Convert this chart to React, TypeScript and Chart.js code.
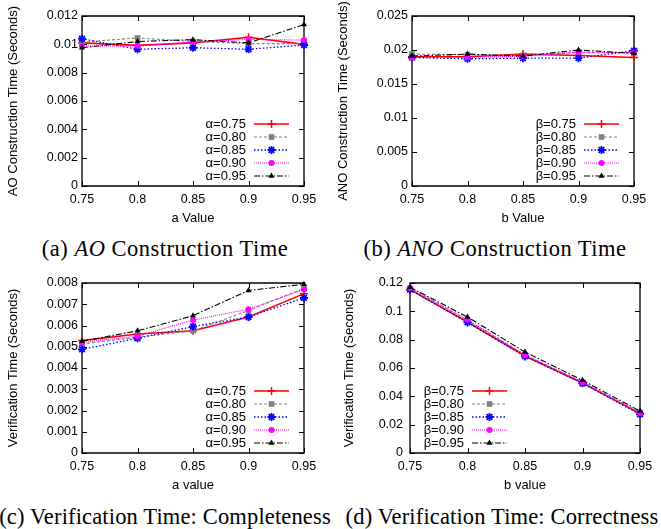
import React, { useEffect, useRef } from 'react';
import { Chart, registerables } from 'chart.js';
import { drawPoint } from 'chart.js/helpers';

Chart.register(...registerables);

// ---------- data ----------
const xLabels = ['0.75', '0.8', '0.85', '0.9', '0.95'];
const alphaLabels = ['α=0.75', 'α=0.80', 'α=0.85', 'α=0.90', 'α=0.95'];
const betaLabels = ['β=0.75', 'β=0.80', 'β=0.85', 'β=0.90', 'β=0.95'];

// (a) AO construction time
const ao075 = [0.0101, 0.00993, 0.0101, 0.0105, 0.01];
const ao080 = [0.01016, 0.01045, 0.0102, 0.01005, 0.01005];
const ao085 = [0.0104, 0.00965, 0.00976, 0.00965, 0.00995];
const ao090 = [0.00988, 0.00988, 0.01016, 0.01035, 0.0103];
const ao095 = [0.00976, 0.0102, 0.01033, 0.0101, 0.0114];

// (b) ANO construction time
const ano075 = [0.019, 0.019, 0.0194, 0.0192, 0.0189];
const ano080 = [0.0194, 0.0193, 0.0192, 0.0196, 0.0196];
const ano085 = [0.0189, 0.0187, 0.0188, 0.0188, 0.0199];
const ano090 = [0.0189, 0.0189, 0.0191, 0.0197, 0.0196];
const ano095 = [0.0191, 0.0194, 0.0191, 0.02, 0.0195];

// (c) verification time: completeness
const vc075 = [0.00529, 0.0056, 0.00575, 0.0064, 0.0075];
const vc080 = [0.00513, 0.00545, 0.00575, 0.0067, 0.00775];
const vc085 = [0.00488, 0.0054, 0.00595, 0.0064, 0.0073];
const vc090 = [0.0052, 0.0055, 0.00625, 0.00677, 0.0077];
const vc095 = [0.00526, 0.00575, 0.00646, 0.00765, 0.00794];

// (d) verification time: correctness
const vr075 = [0.1153, 0.0925, 0.0685, 0.0494, 0.0278];
const vr080 = [0.1162, 0.0937, 0.0694, 0.0501, 0.0287];
const vr085 = [0.1153, 0.0922, 0.0682, 0.0492, 0.0273];
const vr090 = [0.1165, 0.0941, 0.069, 0.0499, 0.0282];
const vr095 = [0.117, 0.096, 0.0713, 0.0513, 0.0296];

// ---------- styles ----------
const FONT = 'Liberation Sans';
const seriesStyles = [
  { color: '#ff0000', dash: [] as number[], width: 1.6, point: 'cross', radius: 4, pbw: 1.5 },
  { color: '#808080', dash: [3, 2], width: 1.1, point: 'rect', radius: 4, pbw: 0 },
  { color: '#0000ff', dash: [1.5, 2], width: 1.3, point: 'star', radius: 4, pbw: 1.8 },
  { color: '#ff00ff', dash: [1, 1], width: 1.1, point: 'circle', radius: 3, pbw: 0 },
  { color: '#000000', dash: [6, 2, 1.5, 2], width: 1.1, point: 'triangle', radius: 3.5, pbw: 0 },
];

const fmt = (v: number) => String(parseFloat(Number(v).toFixed(4)));

const framePlugin = {
  id: 'gFrame',
  beforeDatasetsDraw(chart: any) {
    const { ctx, chartArea } = chart;
    const { left, right, top, bottom } = chartArea;
    const xs = chart.scales.x;
    const ys = chart.scales.y;
    const tl = 5;
    ctx.save();
    ctx.strokeStyle = '#000';
    ctx.lineWidth = 1.3;
    ctx.setLineDash([]);
    ctx.beginPath();
    ctx.rect(left, top, right - left, bottom - top);
    ctx.stroke();
    ctx.lineWidth = 1;
    ctx.beginPath();
    xs.ticks.forEach((_: any, i: number) => {
      const px = Math.round(xs.getPixelForTick(i)) + 0.5;
      ctx.moveTo(px, bottom);
      ctx.lineTo(px, bottom - tl);
      ctx.moveTo(px, top);
      ctx.lineTo(px, top + tl);
    });
    ys.ticks.forEach((_: any, i: number) => {
      const py = Math.round(ys.getPixelForTick(i)) + 0.5;
      ctx.moveTo(left, py);
      ctx.lineTo(left + tl, py);
      ctx.moveTo(right, py);
      ctx.lineTo(right - tl, py);
    });
    ctx.stroke();
    ctx.restore();
  },
};

const legendPlugin = {
  id: 'gLegend',
  afterDraw(chart: any, _args: any, opts: any) {
    const { ctx, chartArea } = chart;
    const rowH = 13;
    const lineLen = 35;
    let lineStart: number;
    if (opts.side === 'left') {
      lineStart = chartArea.left + 62;
    } else {
      lineStart = chartArea.right - 15 - lineLen;
    }
    const textRight = lineStart - 8;
    const lastY = chartArea.bottom - 10;
    const n = chart.data.datasets.length;
    ctx.save();
    chart.data.datasets.forEach((ds: any, i: number) => {
      const y = lastY - (n - 1 - i) * rowH;
      ctx.fillStyle = '#000';
      ctx.font = `13px "${FONT}"`;
      ctx.textAlign = 'right';
      ctx.textBaseline = 'middle';
      ctx.fillText(ds.label, textRight, y + 0.5);
      ctx.strokeStyle = ds.borderColor;
      ctx.lineWidth = ds.borderWidth;
      ctx.setLineDash(ds.borderDash || []);
      ctx.beginPath();
      ctx.moveTo(lineStart, y);
      ctx.lineTo(lineStart + lineLen, y);
      ctx.stroke();
      ctx.setLineDash([]);
      ctx.fillStyle = ds.pointBackgroundColor;
      ctx.strokeStyle = ds.pointBorderColor;
      ctx.lineWidth = ds.pointBorderWidth;
      drawPoint(
        ctx,
        { pointStyle: ds.pointStyle, rotation: 0, radius: ds.pointRadius, borderWidth: ds.pointBorderWidth },
        lineStart + lineLen / 2,
        y
      );
    });
    ctx.restore();
  },
};

type PanelProps = {
  left: number;
  top: number;
  yWidth: number;
  padRight: number;
  yMax: number;
  yStep: number;
  yTitle: string;
  xTitle: string;
  yTitlePad: number;
  yTickPad: number;
  legendSide: 'left' | 'right';
  names: string[];
  series: number[][];
};

const W = 330;
const H = 232;

function Panel(p: PanelProps) {
  const ref = useRef<HTMLCanvasElement | null>(null);
  useEffect(() => {
    if (!ref.current) return;
    const font = { family: FONT, size: 12.5 };
    const titleFont = { family: FONT, size: 13 };
    const chart = new Chart(ref.current, {
      type: 'line',
      data: {
        labels: xLabels,
        datasets: p.series.map((s, i) => {
          const st = seriesStyles[i];
          return {
            label: p.names[i],
            data: s,
            borderColor: st.color,
            backgroundColor: st.color,
            borderWidth: st.width,
            borderDash: st.dash,
            pointStyle: st.point,
            pointRadius: st.radius,
            pointBorderWidth: st.pbw,
            pointBackgroundColor: st.color,
            pointBorderColor: st.color,
            tension: 0,
            fill: false,
            clip: false,
            order: 4 - i,
          } as any;
        }),
      },
      options: {
        animation: false,
        responsive: false,
        devicePixelRatio: 1,
        layout: { padding: { left: 0, right: p.padRight, top: 16, bottom: 0 } },
        plugins: {
          legend: { display: false },
          tooltip: { enabled: false },
          gLegend: { side: p.legendSide },
        } as any,
        scales: {
          x: {
            type: 'category',
            offset: false,
            grid: { display: false, drawTicks: false },
            border: { display: false },
            ticks: { color: '#000', font, padding: 6, maxRotation: 0, autoSkip: false },
            title: { display: true, text: p.xTitle, color: '#000', font: titleFont, padding: { top: 0, bottom: 5.5 } },
            afterFit: (s: any) => {
              s.height = 46;
            },
          },
          y: {
            type: 'linear',
            min: 0,
            max: p.yMax,
            grid: { display: false, drawTicks: false },
            border: { display: false },
            ticks: {
              color: '#000',
              font,
              stepSize: p.yStep,
              padding: p.yTickPad,
              callback: (v: any) => fmt(v),
            },
            title: { display: true, text: p.yTitle, color: '#000', font: titleFont, padding: { top: p.yTitlePad, bottom: 0 } },
            afterFit: (s: any) => {
              s.width = p.yWidth;
            },
          },
        },
      } as any,
      plugins: [framePlugin, legendPlugin],
    });
    return () => chart.destroy();
  }, []);
  return (
    <canvas
      ref={ref}
      width={W}
      height={H}
      style={{ position: 'absolute', left: p.left, top: p.top, width: W, height: H }}
    />
  );
}

const captionStyle = (center: number, top: number, spacing: number): React.CSSProperties => ({
  position: 'absolute',
  left: center - 200,
  top,
  width: 400,
  textAlign: 'center',
  fontFamily: '"Liberation Serif", serif',
  fontSize: 22.5,
  letterSpacing: spacing,
  lineHeight: 1,
  whiteSpace: 'nowrap',
  color: '#000',
});

export default function App() {
  return (
    <div style={{ position: 'absolute', left: 0, top: 0, width: 661, height: 529, background: '#fff', overflow: 'hidden' }}>
      <Panel
        left={0}
        top={0}
        yWidth={82}
        padRight={26}
        yMax={0.012}
        yStep={0.002}
        yTitle="AO Construction Time (Seconds)"
        xTitle="a Value"
        yTitlePad={6}
        yTickPad={4}
        legendSide="right"
        names={alphaLabels}
        series={[ao075, ao080, ao085, ao090, ao095]}
      />
      <Panel
        left={330}
        top={0}
        yWidth={82}
        padRight={26}
        yMax={0.025}
        yStep={0.005}
        yTitle="ANO Construction Time (Seconds)"
        xTitle="b Value"
        yTitlePad={6}
        yTickPad={4}
        legendSide="right"
        names={betaLabels}
        series={[ano075, ano080, ano085, ano090, ano095]}
      />
      <Panel
        left={0}
        top={267}
        yWidth={82}
        padRight={26}
        yMax={0.008}
        yStep={0.001}
        yTitle="Verification Time (Seconds)"
        xTitle="a value"
        yTitlePad={6}
        yTickPad={4}
        legendSide="right"
        names={alphaLabels}
        series={[vc075, vc080, vc085, vc090, vc095]}
      />
      <Panel
        left={330}
        top={267}
        yWidth={80}
        padRight={20}
        yMax={0.12}
        yStep={0.02}
        yTitle="Verification Time (Seconds)"
        xTitle="b value"
        yTitlePad={11.5}
        yTickPad={7}
        legendSide="left"
        names={betaLabels}
        series={[vr075, vr080, vr085, vr090, vr095]}
      />
      <div style={captionStyle(165, 238, 0.5)}>
        (a) <i>AO</i> Construction Time
      </div>
      <div style={captionStyle(495, 238, 0.5)}>
        (b) <i>ANO</i> Construction Time
      </div>
      <div style={captionStyle(165, 506, 0.15)}>(c) Verification Time: Completeness</div>
      <div style={captionStyle(502, 506, 0.15)}>(d) Verification Time: Correctness</div>
    </div>
  );
}
